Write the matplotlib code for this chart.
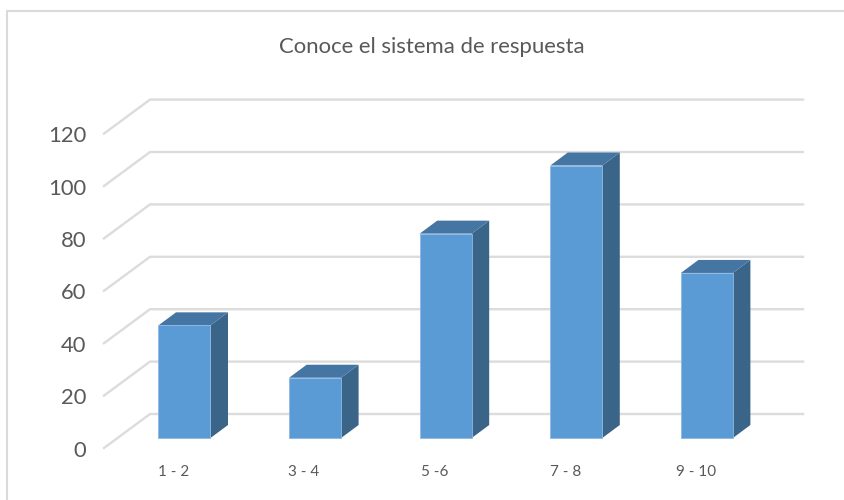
import matplotlib
matplotlib.use("Agg")
import matplotlib.pyplot as plt
from matplotlib.patches import Polygon

categories = ["1 - 2", "3 - 4", "5 -6", "7 - 8", "9 - 10"]
values = [43, 23, 78, 104, 63]
y_ticks = [0, 20, 40, 60, 80, 100, 120]

FRONT = "#5B9BD5"
SIDE = "#3A6589"
TOP = "#4475A3"
GRID = "#DCDCDC"
TEXT = "#595959"

plt.rcParams["font.family"] = ["Lato", "DejaVu Sans"]

W, H = 845, 500
PX_X = 130.6       # pixels per category
PX_Y = 2.62        # pixels per value unit
X0, Y0 = 184.5, 438   # pixel of first category centre, value 0

fig = plt.figure(figsize=(W / 100, H / 100), dpi=100)
ax = fig.add_axes([0, 0, 1, 1])
ax.set_xlim(-X0 / PX_X, (W - X0) / PX_X)
ax.set_ylim((Y0 - H) / PX_Y, Y0 / PX_Y)
ax.axis("off")

gx = lambda px: (px - X0) / PX_X
gy = lambda py: (Y0 - py) / PX_Y

# chart frame, only left and top edges are visible
ax.plot([gx(7), gx(7), gx(845)], [gy(500), gy(10.5), gy(10.5)],
        color="#DADADA", lw=1.5, solid_joinstyle="miter", zorder=1)

# gridlines: floor diagonal on the left, then along the back wall
back = 24 / PX_Y
front = -10 / PX_Y
for t in y_ticks:
    ax.plot([gx(104), gx(150), gx(803)], [t + front, t + back, t + back],
            color=GRID, lw=1.7, solid_joinstyle="miter", zorder=1)
    ax.text(gx(86), t + front - 1.0, str(t), ha="right", va="center",
            fontsize=15.8, color=TEXT)

# 3D columns
half = 26 / PX_X
dx = 17.5 / PX_X
dy = 13 / PX_Y
centers = list(range(len(categories)))
ax.bar(centers, values, width=2 * half, color=FRONT, edgecolor="#8DB9E2",
       linewidth=0.6, zorder=4)
for c, v in zip(centers, values):
    r = c + half
    l = c - half
    ax.add_patch(Polygon([(r, 0), (r + dx, dy), (r + dx, v + dy), (r, v)],
                         facecolor=SIDE, edgecolor="none", zorder=3))
    ax.add_patch(Polygon([(l, v), (r, v), (r + dx, v + dy), (l + dx, v + dy)],
                         facecolor=TOP, edgecolor="none", zorder=3))
    ax.text(c - 0.085, gy(472), categories[c], ha="center", va="center",
            fontsize=11, color=TEXT)

ax.text(gx(431.5), gy(47), "Conoce el sistema de respuesta", ha="center",
        va="center", fontsize=15.9, color=TEXT)

fig.savefig("out.png", dpi=100)
